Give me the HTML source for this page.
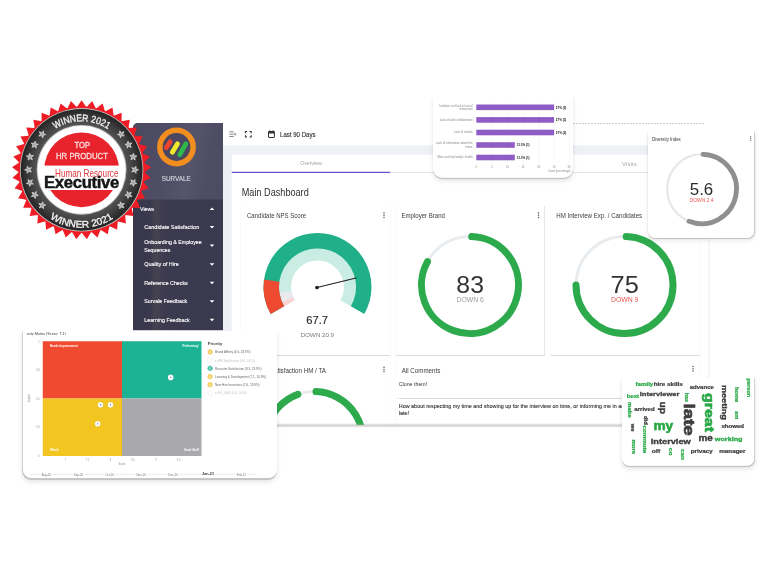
<!DOCTYPE html>
<html lang="en"><head><meta charset="utf-8"><title>Survale Dashboard</title>
<style>
html,body{margin:0;padding:0;background:#fff;}
body{width:768px;height:580px;position:relative;overflow:hidden;font-family:"Liberation Sans",sans-serif;}
.t{position:absolute;white-space:nowrap;margin:0;padding:0;}
.abs{position:absolute;}
svg{position:absolute;left:0;top:0;overflow:visible;}
.card{position:absolute;background:#fff;box-shadow:0 0 4px rgba(0,0,0,.10),0 3.6px 3.2px rgba(0,0,0,.13);}
.float{position:absolute;background:#fff;}
</style></head><body>
<div id="root" style="position:absolute;left:0;top:0;width:3072px;height:2320px;transform:scale(0.25);transform-origin:0 0;">
<div class="abs" id="dash" style="left:532px;top:492px;width:2308px;height:1208px;overflow:hidden;background:#fff;border-radius:20px 0 0 0;">
<div class="abs" style="left:-532px;top:-492px;width:3072px;height:2320px;">
<div class="abs" style="left:892px;top:492px;width:1948px;height:1208px;background:#edf0f5;"></div>
<div class="abs" style="left:891.6px;top:492px;width:1952px;height:90.4px;background:#fff;"></div>
<div class="abs" style="left:927.2px;top:618.4px;width:1916px;height:1088px;background:#fff;"></div>
<div class="abs" style="left:928px;top:688px;width:1912px;height:4px;background:#e4e6ea;"></div>
<div class="abs" style="left:927.2px;top:687.2px;width:634px;height:4.8px;background:#6b4fd0;"></div>
<div class="t" style="left:1196.52px;top:641.6px;font-size:22.4px;line-height:22.4px;color:#a2a2a8;transform:scaleX(0.921);transform-origin:50% 50%;">Overview</div>
<div class="t" style="left:2488.2px;top:642px;font-size:24.8px;line-height:24.8px;color:#a9a9ae;">Visits</div>
<svg width="3072" height="2320" viewBox="0 0 768 580">
<g stroke="#6a6a6a" stroke-width="0.8" fill="none">
<path d="M229.300 131.800h4.400M229.300 134.150h4.400M229.300 136.500h4.400"/>
<path d="M234.300 132.900l1.900 2.500M236.200 132.900l-1.900 2.500" stroke-width="0.65"/>
</g><g stroke="#333" fill="none">
<path d="M245.400 133.200v-1.700h1.700M249.500 131.500h1.700v1.700M251.200 135.200v1.700h-1.700M247.100 136.900h-1.700v-1.700" stroke-width="1.05"/>
<rect x="268.500" y="131.400" width="5.900" height="6" rx="0.8" stroke-width="1.05"/>
<path d="M268.500 132.700h5.900" stroke-width="1.500"/>
<path d="M269.900 130.300v1.300M273 130.300v1.300" stroke-width="0.9"/>
</g></svg>
<div class="t" style="left:1120px;top:523.4px;font-size:29.2px;line-height:29.2px;color:#2c2c2c;transform:scaleX(0.833);transform-origin:0 50%;-webkit-text-stroke:0.48px #2c2c2c;">Last 90 Days</div>
<div class="t" style="left:967.2px;top:748px;font-size:41.6px;line-height:41.6px;color:#2f2f33;transform:scaleX(0.878);transform-origin:0 50%;">Main Dashboard</div>
<div class="card" style="left:964px;top:822px;width:596px;height:598.4px;"></div>
<div class="card" style="left:1584px;top:822px;width:594px;height:598.4px;"></div>
<div class="card" style="left:2204px;top:822px;width:596px;height:598.4px;"></div>
<div class="card" style="left:964px;top:1427.2px;width:596px;height:320px;"></div>
<div class="card" style="left:1584px;top:1427.2px;width:1216px;height:164.8px;"></div>
<div class="card" style="left:1584px;top:1596px;width:1216px;height:160px;"></div>
<div class="t" style="left:988px;top:850px;font-size:26.4px;line-height:26.4px;color:#3c3c40;transform:scaleX(0.914);transform-origin:0 50%;">Candidate NPS Score</div>
<div class="t" style="left:1606px;top:850px;font-size:26.4px;line-height:26.4px;color:#3c3c40;transform:scaleX(0.919);transform-origin:0 50%;">Employer Brand</div>
<div class="t" style="left:2224.8px;top:850px;font-size:26.4px;line-height:26.4px;color:#3c3c40;transform:scaleX(0.930);transform-origin:0 50%;">HM Interview Exp. / Candidates</div>
<div class="t" style="left:938.12px;top:1468px;font-size:26.4px;line-height:26.4px;color:#3c3c40;transform:scaleX(0.942);transform-origin:100% 50%;">Candidate Satisfaction HM / TA</div>
<div class="t" style="left:1607.2px;top:1468.4px;font-size:26.4px;line-height:26.4px;color:#3c3c40;transform:scaleX(0.937);transform-origin:0 50%;">All Comments</div>
<div class="t" style="left:1595.2px;top:1525.6px;font-size:23.2px;line-height:23.2px;color:#333;transform:scaleX(0.911);transform-origin:0 50%;">Clone them!</div>
<div class="t" style="left:1595.2px;top:1611.6px;font-size:22.4px;line-height:22.4px;color:#2e2e2e;transform:scaleX(0.969);transform-origin:0 50%;-webkit-text-stroke:0.4px #2e2e2e;">How about respecting my time and showing up for the interview on time, or informing me in advance</div>
<div class="t" style="left:1595.2px;top:1643.2px;font-size:22.4px;line-height:22.4px;color:#2e2e2e;transform:scaleX(0.992);transform-origin:0 50%;-webkit-text-stroke:0.4px #2e2e2e;">late!</div>
<svg width="3072" height="2320" viewBox="0 0 768 580"><circle cx="384" cy="213.1" r="0.75" fill="#555"/><circle cx="384" cy="215.3" r="0.75" fill="#555"/><circle cx="384" cy="217.5" r="0.75" fill="#555"/><circle cx="538.5" cy="213.1" r="0.75" fill="#555"/><circle cx="538.5" cy="215.3" r="0.75" fill="#555"/><circle cx="538.5" cy="217.5" r="0.75" fill="#555"/><circle cx="384" cy="367.2" r="0.75" fill="#555"/><circle cx="384" cy="369.4" r="0.75" fill="#555"/><circle cx="384" cy="371.6" r="0.75" fill="#555"/><circle cx="693" cy="366.6" r="0.75" fill="#555"/><circle cx="693" cy="368.8" r="0.75" fill="#555"/><circle cx="693" cy="371" r="0.75" fill="#555"/><path d="M283.90 306.40 A38.80 38.80 0 1 1 351.10 306.40 L340.36 300.20 A26.40 26.40 0 1 0 294.64 300.20 Z" fill="#c9ede3"/><path d="M281.78 302.16 A38.80 38.80 0 0 1 279.08 292.40 L291.36 290.67 A26.40 26.40 0 0 0 293.20 297.32 Z" fill="#e9e9ee"/><path d="M283.90 306.40 A38.80 38.80 0 0 1 281.78 302.16 L293.20 297.32 A26.40 26.40 0 0 0 294.64 300.20 Z" fill="#fbd3d3"/><path d="M270.73 314.00 A54.00 54.00 0 1 1 364.27 314.00 L350.84 306.25 A38.50 38.50 0 1 0 284.16 306.25 Z" fill="#1fb08a"/><path d="M270.73 314.00 A54.00 54.00 0 0 1 264.03 279.48 L279.37 281.64 A38.50 38.50 0 0 0 284.16 306.25 Z" fill="#ee4a32"/><path d="M317 287.5 L356 278" stroke="#1e1e1e" stroke-width="1.05" stroke-linecap="round"/><circle cx="317" cy="287.5" r="1.85" fill="#1e1e1e"/><circle cx="470" cy="285" r="48.5" fill="none" stroke="#e9ecef" stroke-width="3"/><path d="M471.69 236.53 A48.50 48.50 0 1 1 427.50 261.63" fill="none" stroke="#2daa4c" stroke-width="7" stroke-linecap="round"/><circle cx="624.5" cy="285" r="48.5" fill="none" stroke="#e9ecef" stroke-width="3"/><path d="M626.19 236.53 A48.50 48.50 0 1 1 576.00 285.00" fill="none" stroke="#2daa4c" stroke-width="7" stroke-linecap="round"/><circle cx="314.3" cy="440" r="48.5" fill="none" stroke="#e9ecef" stroke-width="3"/><path d="M315.99 391.53 A48.50 48.50 0 1 1 297.87 394.37" fill="none" stroke="#2daa4c" stroke-width="7" stroke-linecap="round"/></svg>
<div class="t" style="left:1225.2px;top:1255.6px;font-size:44.8px;line-height:44.8px;color:#333;-webkit-text-stroke:0.88px #333;">67.7</div>
<div class="t" style="left:1202.76px;top:1326px;font-size:24.8px;line-height:24.8px;color:#777;transform:scaleX(0.993);transform-origin:50% 50%;">DOWN 20.9</div>
<div class="t" style="left:1826.28px;top:1088.2px;font-size:98px;line-height:98px;color:#333;transform:scaleX(1.013);transform-origin:50% 50%;">83</div>
<div class="t" style="left:1828.4px;top:1186.8px;font-size:26.4px;line-height:26.4px;color:#9a9a9a;transform:scaleX(1.042);transform-origin:50% 50%;">DOWN 6</div>
<div class="t" style="left:2443.88px;top:1088.2px;font-size:98px;line-height:98px;color:#333;transform:scaleX(1.035);transform-origin:50% 50%;">75</div>
<div class="t" style="left:2445.6px;top:1185.2px;font-size:26.4px;line-height:26.4px;color:#ee554d;transform:scaleX(1.042);transform-origin:50% 50%;">DOWN 9</div>
<div class="abs" style="left:532px;top:492px;width:359.6px;height:830px;background:linear-gradient(90deg,#39374b 0%,#3a384c 19%,#46424f 25%,#423f50 29%,#3c3a4e 36%,#3b394e 100%);"></div>
<div class="abs" style="left:532px;top:492px;width:359.6px;height:306.4px;background:linear-gradient(100deg,#4b4960 0%,#504e66 40%,#56546b 62%,#4f4d65 80%,#4d4b62 100%);"></div>
<div class="abs" style="left:532px;top:1322px;width:362px;height:400px;background:#fff;"></div>
<svg width="3072" height="2320" viewBox="0 0 768 580">
<circle cx="176.5" cy="147" r="16.65" fill="#4a4760" stroke="#f28d1f" stroke-width="5.5"/>
<g stroke-linecap="round" stroke-width="4.800" fill="none">
<path d="M166.3 147.600L170.200 141.900" stroke="#ee432c"/>
<path d="M172.300 152.300L177.500 143.700" stroke="#f1ea27"/>
<path d="M179.800 154.700L185.800 143.900" stroke="#2fb84a"/>
</g></svg>
<div class="t" style="left:642.44px;top:699.4px;font-size:27.6px;line-height:27.6px;color:#d4d4dc;transform:scaleX(0.918);transform-origin:50% 50%;-webkit-text-stroke:0.6px #d4d4dc;">SURVALE</div>
<div class="t" style="left:560px;top:823px;font-size:24.4px;line-height:24.4px;color:#fff;transform:scaleX(0.866);transform-origin:0 50%;-webkit-text-stroke:0.56px #fff;">Views</div>
<div class="t" style="left:577.2px;top:895.8px;font-size:24.4px;line-height:24.4px;color:#fff;transform:scaleX(0.901);transform-origin:0 50%;-webkit-text-stroke:0.56px #fff;">Candidate Satisfaction</div>
<div class="t" style="left:577.2px;top:955px;font-size:24.4px;line-height:24.4px;color:#fff;transform:scaleX(0.865);transform-origin:0 50%;-webkit-text-stroke:0.56px #fff;">Onboarding &amp; Employee</div>
<div class="t" style="left:577.2px;top:985.8px;font-size:24.4px;line-height:24.4px;color:#fff;transform:scaleX(0.852);transform-origin:0 50%;-webkit-text-stroke:0.56px #fff;">Sequences</div>
<div class="t" style="left:577.2px;top:1045px;font-size:24.4px;line-height:24.4px;color:#fff;transform:scaleX(0.893);transform-origin:0 50%;-webkit-text-stroke:0.56px #fff;">Quality of Hire</div>
<div class="t" style="left:577.2px;top:1119px;font-size:24.4px;line-height:24.4px;color:#fff;transform:scaleX(0.867);transform-origin:0 50%;-webkit-text-stroke:0.56px #fff;">Reference Checks</div>
<div class="t" style="left:577.2px;top:1193px;font-size:24.4px;line-height:24.4px;color:#fff;transform:scaleX(0.875);transform-origin:0 50%;-webkit-text-stroke:0.56px #fff;">Survale Feedback</div>
<div class="t" style="left:577.2px;top:1267px;font-size:24.4px;line-height:24.4px;color:#fff;transform:scaleX(0.871);transform-origin:0 50%;-webkit-text-stroke:0.56px #fff;">Learning Feedback</div>
<svg width="3072" height="2320" viewBox="0 0 768 580"><path d="M209.700 210.100L212 207.500L214.300 210.100Z" fill="#fff"/><path d="M209.700 225.9L214.300 225.9L212 228.5Z" fill="#fff"/><path d="M209.700 244.5L214.300 244.5L212 247.1Z" fill="#fff"/><path d="M209.700 263.2L214.300 263.2L212 265.8Z" fill="#fff"/><path d="M209.700 281.7L214.300 281.7L212 284.3Z" fill="#fff"/><path d="M209.700 300.2L214.300 300.2L212 302.8Z" fill="#fff"/><path d="M209.700 318.7L214.300 318.7L212 321.3Z" fill="#fff"/></svg>
</div></div>
<div class="abs" style="left:2292px;top:492px;width:524px;height:0;border-top:4px dashed #cfcfcf;"></div>
<div class="abs" style="left:2834.4px;top:960px;width:0;height:740px;border-left:4px dotted #d0d0d0;"></div>
<svg width="3072" height="2320" viewBox="0 0 768 580"><defs><pattern id="zz" x="223" y="423.600" width="2" height="3.600" patternUnits="userSpaceOnUse"><path d="M0 0.300L1 3.200L2 0.300" fill="none" stroke="#a9a9a9" stroke-width="0.55"/></pattern></defs><rect x="223" y="423.600" width="487" height="3.600" fill="url(#zz)"/></svg>
<div class="float" style="left:1732px;top:384px;width:560px;height:327.2px;border-radius:0 0 36px 36px;box-shadow:0 3.2px 2.8px rgba(0,0,0,.17),0 12px 20px rgba(0,0,0,.11),0 0 3.2px rgba(0,0,0,.06);clip-path:inset(0 -48px -48px -48px);"></div>
<svg width="3072" height="2320" viewBox="0 0 768 580"><path d="M491.9 102V164" stroke="#eeeeee" stroke-width="0.5"/><path d="M507.5 102V164" stroke="#eeeeee" stroke-width="0.5"/><path d="M523.1 102V164" stroke="#eeeeee" stroke-width="0.5"/><path d="M538.7 102V164" stroke="#eeeeee" stroke-width="0.5"/><path d="M554.3 102V164" stroke="#eeeeee" stroke-width="0.5"/><path d="M569.5 102V164" stroke="#eeeeee" stroke-width="0.5"/><rect x="476.3" y="104.5" width="77.7" height="5.6" fill="#8f5cc6"/><rect x="476.3" y="117.1" width="77.7" height="5.6" fill="#8f5cc6"/><rect x="476.3" y="129.7" width="77.7" height="5.6" fill="#8f5cc6"/><rect x="476.3" y="142.2" width="38.5" height="5.6" fill="#8f5cc6"/><rect x="476.3" y="154.7" width="38.5" height="5.6" fill="#8f5cc6"/></svg>
<div class="t" style="left:1757.32px;top:417.52px;font-size:11.4px;line-height:11.4px;color:#888;">Isolation and lack of social</div>
<div class="t" style="left:1837.8px;top:429.88px;font-size:11.4px;line-height:11.4px;color:#888;">interaction</div>
<div class="t" style="left:1758.6px;top:473.92px;font-size:11.4px;line-height:11.4px;color:#888;">Lack of work collaboration</div>
<div class="t" style="left:1815.64px;top:524.28px;font-size:11.4px;line-height:11.4px;color:#888;">Lack of morale</div>
<div class="t" style="left:1743.36px;top:568.28px;font-size:11.4px;line-height:11.4px;color:#888;">Lack of information about the</div>
<div class="t" style="left:1861.24px;top:580.68px;font-size:11.4px;line-height:11.4px;color:#888;">future</div>
<div class="t" style="left:1750.08px;top:624.28px;font-size:11.4px;line-height:11.4px;color:#888;">Mine and my family's health</div>
<div class="t" style="left:2223.2px;top:424px;font-size:12px;line-height:12px;color:#222;font-weight:700;">27% (2)</div>
<div class="t" style="left:2223.2px;top:474.4px;font-size:12px;line-height:12px;color:#222;font-weight:700;">27% (2)</div>
<div class="t" style="left:2223.2px;top:524.8px;font-size:12px;line-height:12px;color:#222;font-weight:700;">27% (2)</div>
<div class="t" style="left:2066.4px;top:574.8px;font-size:12px;line-height:12px;color:#222;font-weight:700;">13.3% (1)</div>
<div class="t" style="left:2066.4px;top:624.8px;font-size:12px;line-height:12px;color:#222;font-weight:700;">13.3% (1)</div>
<div class="t" style="left:1902.32px;top:662.8px;font-size:10.4px;line-height:10.4px;color:#888;">0</div>
<div class="t" style="left:1964.72px;top:662.8px;font-size:10.4px;line-height:10.4px;color:#888;">5</div>
<div class="t" style="left:2024.2px;top:662.8px;font-size:10.4px;line-height:10.4px;color:#888;">10</div>
<div class="t" style="left:2086.6px;top:662.8px;font-size:10.4px;line-height:10.4px;color:#888;">15</div>
<div class="t" style="left:2149px;top:662.8px;font-size:10.4px;line-height:10.4px;color:#888;">20</div>
<div class="t" style="left:2211.4px;top:662.8px;font-size:10.4px;line-height:10.4px;color:#888;">25</div>
<div class="t" style="left:2270.2px;top:662.8px;font-size:10.4px;line-height:10.4px;color:#888;">30</div>
<div class="t" style="left:2192.4px;top:681.2px;font-size:10.4px;line-height:10.4px;color:#888;">Count (percentage)</div>
<div class="float" style="left:2592px;top:520px;width:425.2px;height:431.6px;border-radius:12px 12px 28px 28px;clip-path:inset(0 -48px -48px -48px);box-shadow:0 4px 4px rgba(0,0,0,.18),0 12px 16px rgba(0,0,0,.08),0 0 6px rgba(0,0,0,.12);"></div>
<div class="t" style="left:2608px;top:544.8px;font-size:20.8px;line-height:20.8px;color:#333;transform:scaleX(0.845);transform-origin:0 50%;">Diversity Index</div>
<svg width="3072" height="2320" viewBox="0 0 768 580"><circle cx="750.7" cy="136.8" r="0.6" fill="#555"/><circle cx="750.7" cy="138.5" r="0.6" fill="#555"/><circle cx="750.7" cy="140.2" r="0.6" fill="#555"/><circle cx="701.8" cy="189" r="34.7" fill="none" stroke="#e6e6e6" stroke-width="2.1"/><path d="M703.01 154.32 A34.70 34.70 0 1 1 689.03 221.26" fill="none" stroke="#8f8f8f" stroke-width="4.8" stroke-linecap="round"/></svg>
<div class="t" style="left:2761.36px;top:724px;font-size:64.8px;line-height:64.8px;color:#2b2b2b;transform:scaleX(1.043);transform-origin:50% 50%;">5.6</div>
<div class="t" style="left:2760.96px;top:790.6px;font-size:18.8px;line-height:18.8px;color:#ee554d;transform:scaleX(1.056);transform-origin:50% 50%;">DOWN 2.4</div>
<div class="float" style="left:91.2px;top:1324px;width:1016.8px;height:589.2px;border-radius:0 0 36px 36px;box-shadow:0 3.2px 2.8px rgba(0,0,0,.17),0 12px 20px rgba(0,0,0,.11),0 0 3.2px rgba(0,0,0,.06);clip-path:inset(0 -48px -48px -48px);"></div>
<div class="t" style="left:87.2px;top:1325.6px;font-size:15.2px;line-height:15.2px;color:#444;clip-path:inset(0 0 0 19.2px);">Priority Matrix (Score: 7.1)</div>
<div class="abs" style="left:170.8px;top:1364.8px;width:316.8px;height:229.2px;background:#f04b31;"></div>
<div class="abs" style="left:487.6px;top:1364.8px;width:318.8px;height:229.2px;background:#1bb394;"></div>
<div class="abs" style="left:170.8px;top:1594px;width:316.8px;height:230px;background:#f3c520;"></div>
<div class="abs" style="left:487.6px;top:1594px;width:318.8px;height:230px;background:#a9a9ad;"></div>
<div class="t" style="left:200px;top:1378.2px;font-size:11.6px;line-height:11.6px;color:#fff;font-weight:700;">Needs Improvement</div>
<div class="t" style="left:729.88px;top:1378.2px;font-size:11.6px;line-height:11.6px;color:#fff;font-weight:700;">Performing!</div>
<div class="t" style="left:200px;top:1792.6px;font-size:11.6px;line-height:11.6px;color:#fff;font-weight:700;">Watch</div>
<div class="t" style="left:735.28px;top:1792.6px;font-size:11.6px;line-height:11.6px;color:#fff;font-weight:700;">Good Stuff</div>
<svg width="3072" height="2320" viewBox="0 0 768 580"><circle cx="100.5" cy="404.7" r="2.8" fill="#fff" stroke="rgba(0,0,0,.12)" stroke-width="0.4"/><circle cx="100.5" cy="404.7" r="0.6" fill="#4a5a9a"/><circle cx="110.5" cy="404.7" r="2.8" fill="#fff" stroke="rgba(0,0,0,.12)" stroke-width="0.4"/><circle cx="110.5" cy="404.7" r="0.6" fill="#4a5a9a"/><circle cx="97.7" cy="423.8" r="2.8" fill="#fff" stroke="rgba(0,0,0,.12)" stroke-width="0.4"/><circle cx="97.7" cy="423.8" r="0.6" fill="#4a5a9a"/><circle cx="170.7" cy="377.4" r="2.8" fill="#fff" stroke="rgba(0,0,0,.12)" stroke-width="0.4"/><circle cx="170.7" cy="377.4" r="0.6" fill="#4a5a9a"/><circle cx="210.100" cy="352" r="2.4" fill="#f5d160" stroke="#e6bd45" stroke-width="0.35"/><circle cx="210.100" cy="352" r="1.1" fill="#fff" opacity="0.35"/><circle cx="210.100" cy="360.1" r="2.4" fill="#ffffff" stroke="#dcdcdc" stroke-width="0.35"/><circle cx="210.100" cy="360.1" r="1.1" fill="#fff" opacity="0"/><circle cx="210.100" cy="368.3" r="2.4" fill="#4fc4ab" stroke="#2aa88e" stroke-width="0.35"/><circle cx="210.100" cy="368.3" r="1.1" fill="#fff" opacity="0.35"/><circle cx="210.100" cy="376.6" r="2.4" fill="#f5d160" stroke="#e6bd45" stroke-width="0.35"/><circle cx="210.100" cy="376.6" r="1.1" fill="#fff" opacity="0.35"/><circle cx="210.100" cy="384.7" r="2.4" fill="#f5d160" stroke="#e6bd45" stroke-width="0.35"/><circle cx="210.100" cy="384.7" r="1.1" fill="#fff" opacity="0.35"/><circle cx="210.100" cy="393" r="2.4" fill="#ffffff" stroke="#dcdcdc" stroke-width="0.35"/><circle cx="210.100" cy="393" r="1.1" fill="#fff" opacity="0"/><path d="M30 474.300H256.500" stroke="#d2d2d2" stroke-width="0.5"/></svg>
<div class="t" style="left:831.2px;top:1365.2px;font-size:16.8px;line-height:16.8px;color:#444;font-weight:700;transform:scaleX(0.986);transform-origin:0 50%;">Priority</div>
<div class="t" style="left:860.4px;top:1403.12px;font-size:12.2px;line-height:12.2px;color:#666;">Brand Affinity (6.6, 23.9%)</div>
<div class="t" style="left:860.4px;top:1435.52px;font-size:12.2px;line-height:12.2px;color:#c4c4c4;">e-HM Satisfaction (0.0, 0.0%)</div>
<div class="t" style="left:860.4px;top:1468.32px;font-size:12.2px;line-height:12.2px;color:#666;">Recruiter Satisfaction (9.3, 23.9%)</div>
<div class="t" style="left:860.4px;top:1501.52px;font-size:12.2px;line-height:12.2px;color:#666;">Learning &amp; Development (7.1, 10.9%)</div>
<div class="t" style="left:860.4px;top:1533.92px;font-size:12.2px;line-height:12.2px;color:#666;">New Hire Incentives (7.6, 23.9%)</div>
<div class="t" style="left:860.4px;top:1567.12px;font-size:12.2px;line-height:12.2px;color:#c4c4c4;">e-HQ_0466 (0.0, 0.0%)</div>
<div class="t" style="left:152.6px;top:1362px;font-size:10.4px;line-height:10.4px;color:#999;">1</div>
<div class="t" style="left:143.96px;top:1475.2px;font-size:10.4px;line-height:10.4px;color:#999;">0.8</div>
<div class="t" style="left:143.96px;top:1590.4px;font-size:10.4px;line-height:10.4px;color:#999;">0.5</div>
<div class="t" style="left:143.96px;top:1704.4px;font-size:10.4px;line-height:10.4px;color:#999;">0.3</div>
<div class="t" style="left:152.6px;top:1820.4px;font-size:10.4px;line-height:10.4px;color:#999;">0</div>
<div class="t" style="left:102px;top:1588.4px;width:31.2px;text-align:center;font-size:10.4px;line-height:10.4px;color:#888;transform:rotate(-90deg) scaleX(1.000);transform-origin:50% 50%;">Impact</div>
<div class="t" style="left:259.12px;top:1834px;font-size:10.4px;line-height:10.4px;color:#999;">7</div>
<div class="t" style="left:342.36px;top:1834px;font-size:10.4px;line-height:10.4px;color:#999;">7.5</div>
<div class="t" style="left:439.12px;top:1834px;font-size:10.4px;line-height:10.4px;color:#999;">8</div>
<div class="t" style="left:524.76px;top:1834px;font-size:10.4px;line-height:10.4px;color:#999;">8.5</div>
<div class="t" style="left:621.12px;top:1834px;font-size:10.4px;line-height:10.4px;color:#999;">9</div>
<div class="t" style="left:707.16px;top:1834px;font-size:10.4px;line-height:10.4px;color:#999;">9.5</div>
<div class="t" style="left:474px;top:1850px;font-size:10.4px;line-height:10.4px;color:#888;">Score</div>
<div class="t" style="left:162.88px;top:1892.2px;font-size:11.6px;line-height:11.6px;color:#777;background:#fff;padding:0 4px;">Aug-20</div>
<div class="t" style="left:291.28px;top:1892.2px;font-size:11.6px;line-height:11.6px;color:#777;background:#fff;padding:0 4px;">Sep-20</div>
<div class="t" style="left:417.4px;top:1892.2px;font-size:11.6px;line-height:11.6px;color:#777;background:#fff;padding:0 4px;">Oct-20</div>
<div class="t" style="left:542.12px;top:1892.2px;font-size:11.6px;line-height:11.6px;color:#777;background:#fff;padding:0 4px;">Nov-20</div>
<div class="t" style="left:669.32px;top:1892.2px;font-size:11.6px;line-height:11.6px;color:#777;background:#fff;padding:0 4px;">Dec-20</div>
<div class="t" style="left:943.24px;top:1892.2px;font-size:11.6px;line-height:11.6px;color:#777;background:#fff;padding:0 4px;">Feb-21</div>
<div class="t" style="left:802.64px;top:1884.8px;font-size:16px;line-height:16px;color:#333;font-weight:700;transform:scaleX(0.947);transform-origin:50% 50%;background:#fff;padding:0 4px;">Jan-21</div>
<div class="float" style="left:2488px;top:1512px;width:528.8px;height:351.2px;border-radius:0 0 28px 28px;box-shadow:0 3.2px 2.8px rgba(0,0,0,.17),0 12px 20px rgba(0,0,0,.11),0 0 3.2px rgba(0,0,0,.06);clip-path:inset(0 -48px -48px -48px);"></div>
<div class="t" style="left:2541.6px;top:1528.72px;font-size:19.44px;line-height:19.44px;color:#27a844;font-weight:700;transform:scaleX(1.267);transform-origin:0 50%;-webkit-text-stroke:0.87px #27a844;">family</div>
<div class="t" style="left:2615.2px;top:1528.72px;font-size:19.44px;line-height:19.44px;color:#3d3d3d;font-weight:700;transform:scaleX(1.289);transform-origin:0 50%;-webkit-text-stroke:0.87px #3d3d3d;">hire skills</div>
<div class="t" style="left:2758.8px;top:1539.96px;font-size:18.72px;line-height:18.72px;color:#3d3d3d;font-weight:700;transform:scaleX(1.287);transform-origin:0 50%;-webkit-text-stroke:0.84px #3d3d3d;">advance</div>
<div class="t" style="left:2559.2px;top:1564.56px;font-size:24.48px;line-height:24.48px;color:#3d3d3d;font-weight:700;transform:scaleX(1.225);transform-origin:0 50%;-webkit-text-stroke:1.1px #3d3d3d;">interviewer</div>
<div class="t" style="left:2506.8px;top:1577.96px;font-size:18.72px;line-height:18.72px;color:#27a844;font-weight:700;transform:scaleX(1.278);transform-origin:0 50%;-webkit-text-stroke:0.84px #27a844;">best</div>
<div class="t" style="left:2537.2px;top:1627.56px;font-size:18.72px;line-height:18.72px;color:#3d3d3d;font-weight:700;transform:scaleX(1.307);transform-origin:0 50%;-webkit-text-stroke:0.84px #3d3d3d;">arrived</div>
<div class="t" style="left:2614.4px;top:1677.92px;font-size:48.6px;line-height:48.6px;color:#27a844;font-weight:700;transform:scaleX(1.122);transform-origin:0 50%;-webkit-text-stroke:2.19px #27a844;">my</div>
<div class="t" style="left:2603.2px;top:1748.28px;font-size:32.4px;line-height:32.4px;color:#3d3d3d;font-weight:700;transform:scaleX(1.139);transform-origin:0 50%;-webkit-text-stroke:1.46px #3d3d3d;">interview</div>
<div class="t" style="left:2793.6px;top:1736.04px;font-size:34.2px;line-height:34.2px;color:#3d3d3d;font-weight:700;transform:scaleX(1.157);transform-origin:0 50%;-webkit-text-stroke:1.54px #3d3d3d;">me</div>
<div class="t" style="left:2859.2px;top:1743px;font-size:23.76px;line-height:23.76px;color:#27a844;font-weight:700;transform:scaleX(1.221);transform-origin:0 50%;-webkit-text-stroke:1.07px #27a844;">working</div>
<div class="t" style="left:2885.6px;top:1697.56px;font-size:18.72px;line-height:18.72px;color:#3d3d3d;font-weight:700;transform:scaleX(1.297);transform-origin:0 50%;-webkit-text-stroke:0.84px #3d3d3d;">showed</div>
<div class="t" style="left:2607.2px;top:1796.36px;font-size:18.72px;line-height:18.72px;color:#3d3d3d;font-weight:700;transform:scaleX(1.406);transform-origin:0 50%;-webkit-text-stroke:0.84px #3d3d3d;">off</div>
<div class="t" style="left:2763.2px;top:1796.36px;font-size:18.72px;line-height:18.72px;color:#3d3d3d;font-weight:700;transform:scaleX(1.336);transform-origin:0 50%;-webkit-text-stroke:0.84px #3d3d3d;">privacy</div>
<div class="t" style="left:2876.8px;top:1796.36px;font-size:18.72px;line-height:18.72px;color:#3d3d3d;font-weight:700;transform:scaleX(1.348);transform-origin:0 50%;-webkit-text-stroke:0.84px #3d3d3d;">manager</div>
<div class="t" style="left:2730.52px;top:1580.2px;width:31px;text-align:center;font-size:18px;line-height:18px;color:#27a844;font-weight:700;transform:rotate(90deg) scaleX(1.186);transform-origin:50% 50%;-webkit-text-stroke:0.81px #27a844;">has</div>
<div class="t" style="left:2772.44px;top:1623.4px;width:132.04px;text-align:center;font-size:54px;line-height:54px;color:#27a844;font-weight:700;transform:rotate(90deg) scaleX(1.181);transform-origin:50% 50%;-webkit-text-stroke:2.43px #27a844;">great</div>
<div class="t" style="left:2839.44px;top:1593.72px;width:118.72px;text-align:center;font-size:30.96px;line-height:30.96px;color:#3d3d3d;font-weight:700;transform:rotate(90deg) scaleX(1.179);transform-origin:50% 50%;-webkit-text-stroke:1.39px #3d3d3d;">meeting</div>
<div class="t" style="left:2960.88px;top:1541.84px;width:62.4px;text-align:center;font-size:18.72px;line-height:18.72px;color:#27a844;font-weight:700;transform:rotate(90deg) scaleX(1.218);transform-origin:50% 50%;-webkit-text-stroke:0.84px #27a844;">person</div>
<div class="t" style="left:2919.52px;top:1569.24px;width:49.92px;text-align:center;font-size:18.72px;line-height:18.72px;color:#27a844;font-weight:700;transform:rotate(90deg) scaleX(1.226);transform-origin:50% 50%;-webkit-text-stroke:0.84px #27a844;">home</div>
<div class="t" style="left:2930.96px;top:1651.44px;width:27.04px;text-align:center;font-size:18.72px;line-height:18.72px;color:#27a844;font-weight:700;transform:rotate(90deg) scaleX(1.212);transform-origin:50% 50%;-webkit-text-stroke:0.84px #27a844;">am</div>
<div class="t" style="left:2630.32px;top:1611.52px;width:46.2px;text-align:center;font-size:37.8px;line-height:37.8px;color:#3d3d3d;font-weight:700;transform:rotate(90deg) scaleX(1.091);transform-origin:50% 50%;-webkit-text-stroke:1.7px #3d3d3d;">up</div>
<div class="t" style="left:2704.36px;top:1648.2px;width:105.48px;text-align:center;font-size:61.2px;line-height:61.2px;color:#3d3d3d;font-weight:700;transform:rotate(90deg) scaleX(1.221);transform-origin:50% 50%;-webkit-text-stroke:2.75px #3d3d3d;">late</div>
<div class="t" style="left:2492.16px;top:1629.64px;width:47.88px;text-align:center;font-size:18.72px;line-height:18.72px;color:#27a844;font-weight:700;transform:rotate(90deg) scaleX(1.312);transform-origin:50% 50%;-webkit-text-stroke:0.84px #27a844;">make</div>
<div class="t" style="left:2565.64px;top:1672.44px;width:28.08px;text-align:center;font-size:18.72px;line-height:18.72px;color:#3d3d3d;font-weight:700;transform:rotate(90deg) scaleX(1.240);transform-origin:50% 50%;-webkit-text-stroke:0.84px #3d3d3d;">did</div>
<div class="t" style="left:2538.08px;top:1748.24px;width:83.2px;text-align:center;font-size:18.72px;line-height:18.72px;color:#27a844;font-weight:700;transform:rotate(90deg) scaleX(1.336);transform-origin:50% 50%;-webkit-text-stroke:0.84px #27a844;">commute</div>
<div class="t" style="left:2519.2px;top:1700.64px;width:24.96px;text-align:center;font-size:18.72px;line-height:18.72px;color:#3d3d3d;font-weight:700;transform:rotate(90deg) scaleX(1.217);transform-origin:50% 50%;-webkit-text-stroke:0.84px #3d3d3d;">we</div>
<div class="t" style="left:2508.8px;top:1778.24px;width:45.76px;text-align:center;font-size:18.72px;line-height:18.72px;color:#27a844;font-weight:700;transform:rotate(90deg) scaleX(1.293);transform-origin:50% 50%;-webkit-text-stroke:0.84px #27a844;">more</div>
<div class="t" style="left:2672.36px;top:1796.84px;width:21.84px;text-align:center;font-size:18.72px;line-height:18.72px;color:#27a844;font-weight:700;transform:rotate(90deg) scaleX(1.373);transform-origin:50% 50%;-webkit-text-stroke:0.84px #27a844;">co</div>
<div class="t" style="left:2712.36px;top:1808.04px;width:32.24px;text-align:center;font-size:18.72px;line-height:18.72px;color:#27a844;font-weight:700;transform:rotate(90deg) scaleX(1.352);transform-origin:50% 50%;-webkit-text-stroke:0.84px #27a844;">can</div>
<svg width="3072" height="2320" viewBox="0 0 768 580"><defs>
<radialGradient id="rg" cx="0.5" cy="0.5" r="0.5">
<stop offset="0.72" stop-color="#565656"/><stop offset="0.86" stop-color="#3f3f3f"/><stop offset="0.95" stop-color="#2e2e2e"/><stop offset="1" stop-color="#232323"/>
</radialGradient>
<clipPath id="rc"><circle cx="81.6" cy="169.8" r="37.4"/></clipPath>
<path id="tp" d="M33.10 169.80 A48.50 48.50 0 0 1 130.10 169.80"/>
<path id="bp" d="M23.60 169.80 A58.00 58.00 0 0 0 139.60 169.80"/>
</defs><polygon points="81.60,100.20 86.41,107.18 92.22,101.02 95.91,108.65 102.60,103.44 105.08,111.55 112.48,107.43 113.69,115.82 121.64,112.87 121.56,121.35 129.86,119.65 128.48,128.02 136.95,127.61 134.31,135.66 142.74,136.55 138.91,144.11 147.10,146.27 142.16,153.16 149.93,156.55 143.99,162.60 151.15,167.13 144.35,172.21 150.74,177.78 143.25,181.76 148.71,188.24 140.70,191.03 145.11,198.27 136.77,199.80 140.02,207.63 131.54,207.87 133.56,216.11 125.15,215.05 125.88,223.50 117.73,221.17 117.17,229.63 109.47,226.08 107.62,234.35 100.55,229.67 97.46,237.57 91.19,231.86 86.93,239.20 81.60,232.60 76.27,239.20 72.01,231.86 65.74,237.57 62.65,229.67 55.58,234.35 53.73,226.08 46.03,229.63 45.47,221.17 37.32,223.50 38.05,215.05 29.64,216.11 31.66,207.87 23.18,207.63 26.43,199.80 18.09,198.27 22.50,191.03 14.49,188.24 19.95,181.76 12.46,177.78 18.85,172.21 12.05,167.13 19.21,162.60 13.27,156.55 21.04,153.16 16.10,146.27 24.29,144.11 20.46,136.55 28.89,135.66 26.25,127.61 34.72,128.02 33.34,119.65 41.64,121.35 41.56,112.87 49.51,115.82 50.72,107.43 58.12,111.55 60.60,103.44 67.29,108.65 70.98,101.02 76.79,107.18" fill="#ee1c25"/><circle cx="81.6" cy="169.8" r="63.2" fill="#ee1c25"/><circle cx="81.6" cy="169.8" r="61.700" fill="#bfbfbf"/><circle cx="81.6" cy="169.8" r="60.900" fill="url(#rg)"/><circle cx="81.6" cy="169.8" r="44.900" fill="#c4c4c4"/><circle cx="81.6" cy="169.8" r="44" fill="#fff"/><circle cx="81.6" cy="169.8" r="37.400" fill="#e8232c"/><rect x="43.1" y="165.600" width="77" height="24.400" fill="#fff"/><polygon points="39.32,131.73 41.74,132.68 43.57,130.82 43.41,133.43 45.74,134.59 43.22,135.24 42.83,137.82 41.43,135.62 38.86,136.05 40.52,134.04" fill="#a8a8a8" stroke="#e0e0e0" stroke-width="0.75" stroke-linejoin="miter"/><polygon points="31.36,143.09 33.95,143.43 35.27,141.18 35.75,143.74 38.29,144.31 36.00,145.55 36.25,148.15 34.36,146.35 31.97,147.39 33.09,145.04" fill="#a8a8a8" stroke="#e0e0e0" stroke-width="0.75" stroke-linejoin="miter"/><polygon points="26.39,156.03 28.98,155.74 29.72,153.24 30.80,155.61 33.41,155.54 31.49,157.31 32.36,159.76 30.09,158.48 28.02,160.07 28.54,157.51" fill="#a8a8a8" stroke="#e0e0e0" stroke-width="0.75" stroke-linejoin="miter"/><polygon points="24.70,169.80 27.14,168.89 27.26,166.28 28.88,168.32 31.39,167.63 29.95,169.80 31.39,171.97 28.88,171.28 27.26,173.32 27.14,170.71" fill="#a8a8a8" stroke="#e0e0e0" stroke-width="0.75" stroke-linejoin="miter"/><polygon points="26.39,183.57 28.54,182.09 28.02,179.53 30.09,181.12 32.36,179.84 31.49,182.29 33.41,184.06 30.80,183.99 29.72,186.36 28.98,183.86" fill="#a8a8a8" stroke="#e0e0e0" stroke-width="0.75" stroke-linejoin="miter"/><polygon points="31.36,196.51 33.09,194.56 31.97,192.21 34.36,193.25 36.25,191.45 36.00,194.05 38.29,195.29 35.75,195.86 35.27,198.42 33.95,196.17" fill="#a8a8a8" stroke="#e0e0e0" stroke-width="0.75" stroke-linejoin="miter"/><polygon points="39.32,207.87 40.52,205.56 38.86,203.55 41.43,203.98 42.83,201.78 43.22,204.36 45.74,205.01 43.41,206.17 43.57,208.78 41.74,206.92" fill="#a8a8a8" stroke="#e0e0e0" stroke-width="0.75" stroke-linejoin="miter"/><polygon points="123.88,131.73 122.68,134.04 124.34,136.05 121.77,135.62 120.37,137.82 119.98,135.24 117.46,134.59 119.79,133.43 119.63,130.82 121.46,132.68" fill="#a8a8a8" stroke="#e0e0e0" stroke-width="0.75" stroke-linejoin="miter"/><polygon points="131.84,143.09 130.11,145.04 131.23,147.39 128.84,146.35 126.95,148.15 127.20,145.55 124.91,144.31 127.45,143.74 127.93,141.18 129.25,143.43" fill="#a8a8a8" stroke="#e0e0e0" stroke-width="0.75" stroke-linejoin="miter"/><polygon points="136.81,156.03 134.66,157.51 135.18,160.07 133.11,158.48 130.84,159.76 131.71,157.31 129.79,155.54 132.40,155.61 133.48,153.24 134.22,155.74" fill="#a8a8a8" stroke="#e0e0e0" stroke-width="0.75" stroke-linejoin="miter"/><polygon points="138.50,169.80 136.06,170.71 135.94,173.32 134.32,171.28 131.81,171.97 133.25,169.80 131.81,167.63 134.32,168.32 135.94,166.28 136.06,168.89" fill="#a8a8a8" stroke="#e0e0e0" stroke-width="0.75" stroke-linejoin="miter"/><polygon points="136.81,183.57 134.22,183.86 133.48,186.36 132.40,183.99 129.79,184.06 131.71,182.29 130.84,179.84 133.11,181.12 135.18,179.53 134.66,182.09" fill="#a8a8a8" stroke="#e0e0e0" stroke-width="0.75" stroke-linejoin="miter"/><polygon points="131.84,196.51 129.25,196.17 127.93,198.42 127.45,195.86 124.91,195.29 127.20,194.05 126.95,191.45 128.84,193.25 131.23,192.21 130.11,194.56" fill="#a8a8a8" stroke="#e0e0e0" stroke-width="0.75" stroke-linejoin="miter"/><polygon points="123.88,207.87 121.46,206.92 119.63,208.78 119.79,206.17 117.46,205.01 119.98,204.36 120.37,201.78 121.77,203.98 124.34,203.55 122.68,205.56" fill="#a8a8a8" stroke="#e0e0e0" stroke-width="0.75" stroke-linejoin="miter"/><text font-family="Liberation Sans, sans-serif" font-size="9.8" fill="#f4f4f4" stroke="#f4f4f4" stroke-width="0.3" text-anchor="middle" textLength="56" lengthAdjust="spacingAndGlyphs"><textPath href="#tp" startOffset="50%">WINNER 2021</textPath></text><text font-family="Liberation Sans, sans-serif" font-size="9.8" fill="#f4f4f4" stroke="#f4f4f4" stroke-width="0.3" text-anchor="middle" textLength="67" lengthAdjust="spacingAndGlyphs"><textPath href="#bp" startOffset="50%">WINNER 2021</textPath></text></svg>
<div class="t" style="left:294.56px;top:561.6px;font-size:33.6px;line-height:33.6px;color:#f9dcdc;transform:scaleX(0.911);transform-origin:50% 50%;-webkit-text-stroke:1.2px #f9dcdc;">TOP</div>
<div class="t" style="left:216px;top:607.2px;font-size:33.6px;line-height:33.6px;color:#f9dcdc;transform:scaleX(0.929);transform-origin:50% 50%;-webkit-text-stroke:1.2px #f9dcdc;">HR PRODUCT</div>
<div class="t" style="left:220px;top:673.6px;font-size:40.4px;line-height:40.4px;color:#e0353a;transform:scaleX(0.808);transform-origin:0 50%;">Human Resource</div>
<div class="t" style="left:176.4px;top:697.4px;font-size:62.8px;line-height:62.8px;color:#161616;font-weight:700;transform:scaleX(1.062);transform-origin:0 50%;-webkit-text-stroke:1.8px #161616;letter-spacing:-1.2px;">Executive</div>
</div>
</body></html>
